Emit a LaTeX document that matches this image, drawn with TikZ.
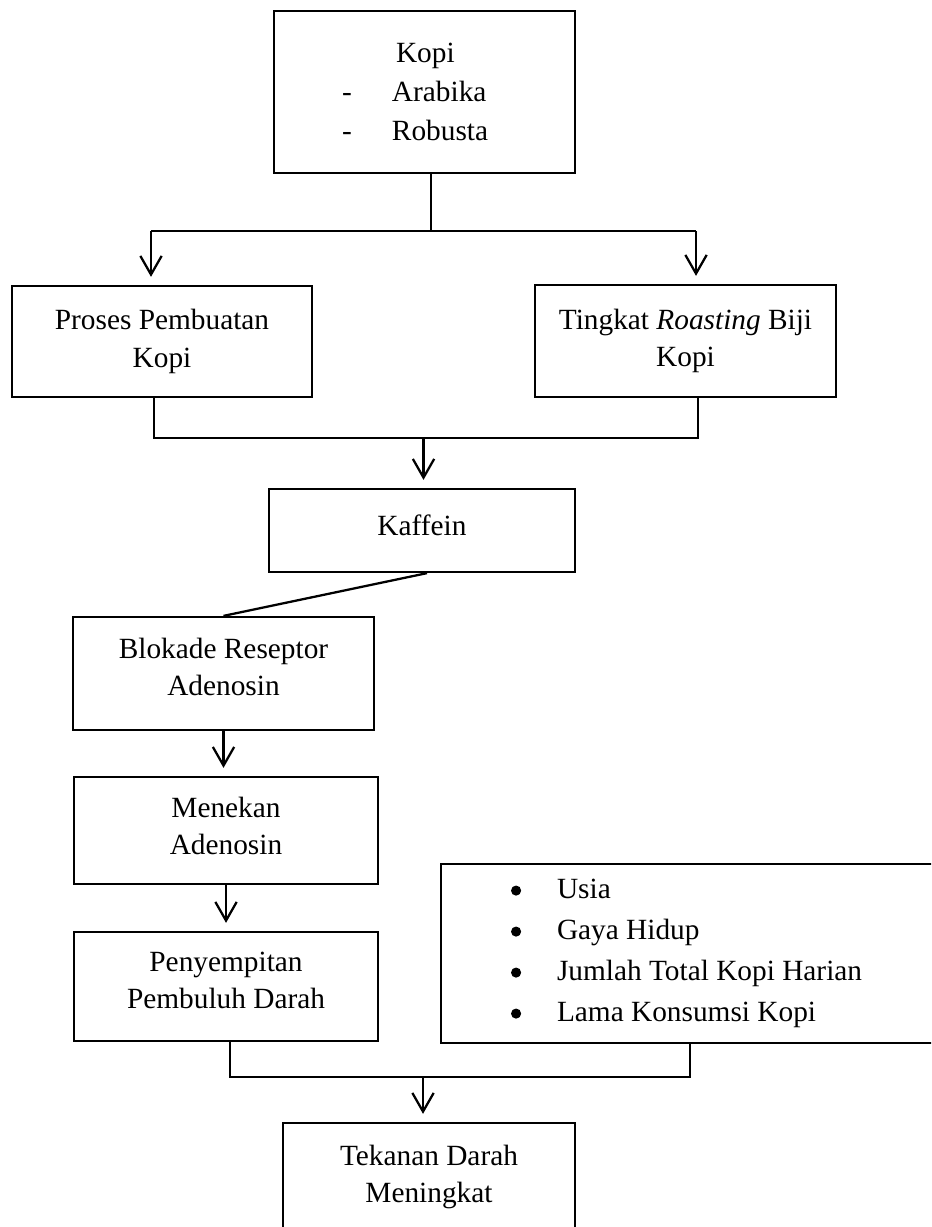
\documentclass[tikz,border=0pt]{standalone}
\usepackage{fontspec}
\setmainfont{Liberation Serif}
\usetikzlibrary{arrows.meta,calc}
\newlength{\px}\setlength{\px}{0.75pt}
\newcommand{\lowerby}[1]{\rule[-#1\px]{0pt}{1\px}}
\newcommand{\bigdot}{\tikz[baseline=0pt]\fill[black] (0pt,6pt) circle (3.8pt);}
\begin{document}
\begin{tikzpicture}[x=0.75pt,y=-0.75pt,line width=1.7pt,
  font=\fontsize{22}{28}\selectfont,
  boxnode/.style={draw, rectangle, align=center, inner sep=0pt},
  arr/.style={-{Straight Barb[length=14pt,width=16pt]}, shorten >=6pt}]
\useasboundingbox (0,0) rectangle (931,1227);
\clip (0,0) rectangle (931,1227);
\fill[white] (0,0) rectangle (931,1227);

% boxes
\node[boxnode, minimum width=225.75pt, minimum height=121.5pt, align=flush left, text width=225.75pt,
  font=\fontsize{22}{29.25}\selectfont] (kopi) at (424.5,92)
  {\hspace*{122\px}Kopi\\
   \hspace*{68\px}\makebox[50\px][l]{-}Arabika\\
   \hspace*{68\px}\makebox[50\px][l]{-}Robusta};
\node[boxnode, minimum width=225pt, minimum height=83.25pt] (proses) at (162,341.5)
  {Proses Pembuatan\\Kopi};
\node[boxnode, minimum width=225.75pt, minimum height=84pt] (tingkat) at (685.5,341)
  {Tingkat \textit{Roasting} Biji\\Kopi};
\node[boxnode, minimum width=229.5pt, minimum height=62.25pt] (kaffein) at (422,530.5)
  {Kaffein\lowerby{10}};
\node[boxnode, minimum width=225.75pt, minimum height=84.75pt] (blokade) at (223.5,673.5)
  {Blokade Reseptor\\Adenosin\lowerby{14}};
\node[boxnode, minimum width=228pt, minimum height=80.25pt] (menekan) at (226,830.5)
  {Menekan\\Adenosin\lowerby{10}};
\node[boxnode, minimum width=228pt, minimum height=81.75pt] (penyempitan) at (226,986.5)
  {Penyempitan\\Pembuluh Darah\lowerby{12}};
\node[boxnode, minimum width=389.25pt, minimum height=134.25pt, align=flush left, text width=389.25pt,
  font=\fontsize{22}{30.75}\selectfont] (usia) at (700.5,953.5)
  {\hspace*{70\px}\makebox[46\px][l]{\bigdot}Usia\\
   \hspace*{70\px}\makebox[46\px][l]{\bigdot}Gaya Hidup\\
   \hspace*{70\px}\makebox[46\px][l]{\bigdot}Jumlah Total Kopi Harian\\
   \hspace*{70\px}\makebox[46\px][l]{\bigdot}Lama Konsumsi Kopi};
\node[boxnode, minimum width=219pt, minimum height=81pt] (tekanan) at (429,1177)
  {Tekanan Darah\\Meningkat};

% connectors
\coordinate (j1) at (431,231);
\coordinate (aL) at (151,231);
\coordinate (aR) at (696,231);
\draw (kopi.south -| j1) -- (j1);
\draw (aL) -- (aR);
\draw[arr] (aL) -- (aL |- proses.north);
\draw[arr] (aR) -- (aR |- tingkat.north);

\coordinate (bL) at (154,438);
\coordinate (bR) at (698,438);
\coordinate (j2) at (423.5,438);
\draw (bL |- proses.south) -- (bL) -- (bR) -- (bR |- tingkat.south);
\draw[arr] (j2) -- (j2 |- kaffein.north);

\draw ([xshift=3.75pt]kaffein.south) -- (blokade.north);
\draw[arr] (blokade.south) -- (blokade.south |- menekan.north);
\draw[arr] (menekan.south) -- (menekan.south |- penyempitan.north);

\coordinate (dL) at (230,1077);
\coordinate (dR) at (690,1077);
\coordinate (j3) at (423,1077);
\draw (dL |- penyempitan.south) -- (dL) -- (dR) -- (dR |- usia.south);
\draw[arr] (j3) -- (j3 |- tekanan.north);
\end{tikzpicture}
\end{document}
